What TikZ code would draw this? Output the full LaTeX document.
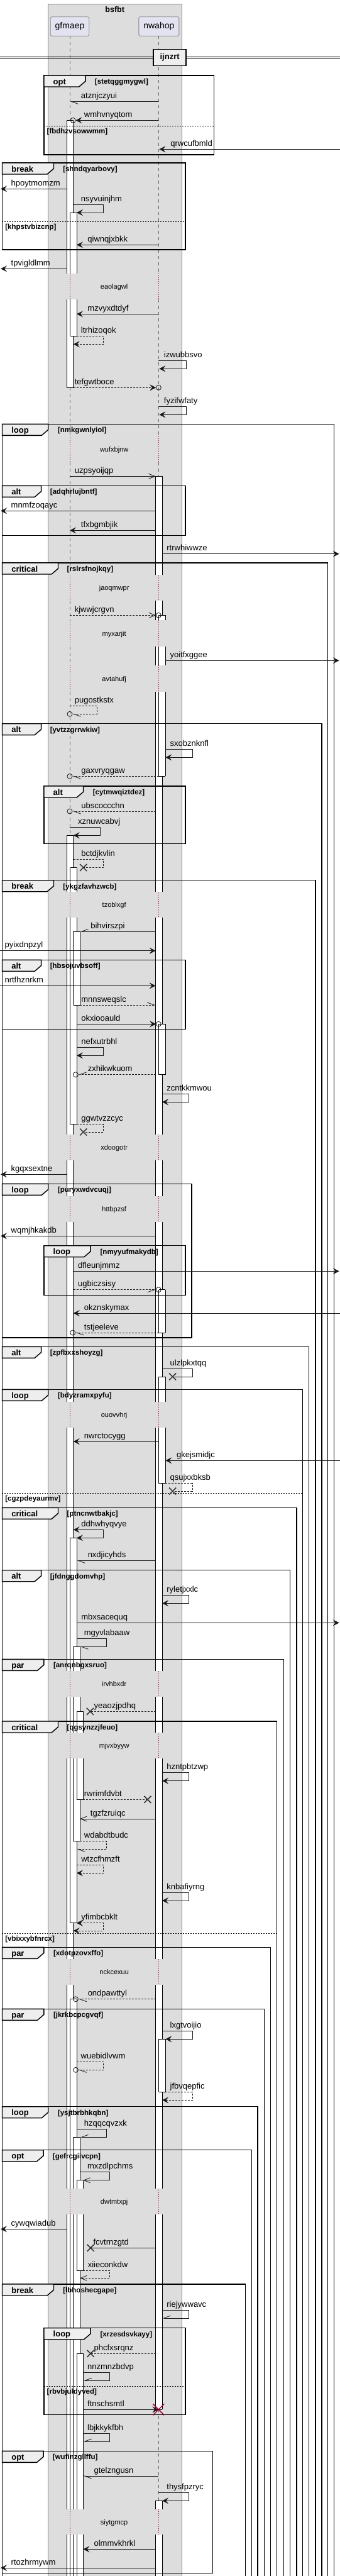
\documentclass[tikz,border=0pt]{standalone}
\usepackage{fontspec}
\setmainfont{Liberation Sans}
\usetikzlibrary{arrows.meta}
\definecolor{boxgray}{HTML}{DDDDDD}
\definecolor{boxedge}{HTML}{888888}
\definecolor{partfill}{HTML}{E2E2F0}
\definecolor{tabgray}{HTML}{EEEEEE}
\definecolor{lifegray}{HTML}{666666}
\definecolor{delayred}{HTML}{A80036}
\definecolor{ink}{HTML}{181818}
\tikzset{
  msg/.style={draw=ink, line width=0.8pt},
  ret/.style={msg, dash pattern=on 3pt off 2pt},
  fa/.style={-{Stealth[length=10pt,width=10pt,inset=4pt]}},
  fb/.style={{Stealth[length=10pt,width=10pt,inset=4pt]}-{Stealth[length=10pt,width=10pt,inset=4pt]}},
  oa/.style={-{Straight Barb[length=10pt,width=8pt]}},
  hl/.style={-{Straight Barb[left,length=11pt,width=8pt]}},
  hr/.style={-{Straight Barb[right,length=11pt,width=8pt]}},
  lbl/.style={anchor=base west, inner sep=0pt, font=\fontsize{13}{15}\selectfont},
  grplab/.style={anchor=base west, inner sep=0pt, font=\bfseries\fontsize{13}{15}\selectfont},
  guardlab/.style={anchor=base west, inner sep=0pt, font=\bfseries\fontsize{11.5}{13}\selectfont},
  delaylab/.style={anchor=base, inner sep=0pt, font=\fontsize{11}{13}\selectfont},
  grpline/.style={draw=black, line width=1.4pt},
  actline/.style={draw=black, line width=0.8pt},
  lifeline/.style={draw=lifegray, line width=0.8pt, dash pattern=on 5pt off 5pt},
  delayline/.style={draw=delayred, line width=0.8pt, dash pattern=on 1pt off 2pt},
  crossmark/.style={draw=ink!90, line width=1.5pt},
  partbox/.style={draw=boxedge, fill=partfill, rounded corners=2.5pt, line width=0.8pt,
    minimum width=61.5pt, minimum height=30.6pt, font=\fontsize{14}{16}\selectfont},
}
\newcommand{\xcross}[2]{\draw[crossmark] (#1,#2) ++(-5.3,-5.5) -- ++(10.6,11) ++(-10.6,0) -- ++(10.6,-11);}
\newcommand{\ocirc}[2]{\draw[msg] (#1,#2) circle (4pt);}

\begin{document}
\begin{tikzpicture}[x=1.047pt, y=-1pt]
  \useasboundingbox (0,0) rectangle (516.7,4096);
  \fill[white] (0,0) rectangle (516.7,4096);

  % box round the two participants
  \filldraw[fill=boxgray, draw=boxedge, line width=0.8pt] (72.7,6) rectangle (276,4110);
  \node[font=\bfseries\fontsize{12.5}{15}\selectfont] (bsfbt) at (174.5,15) {bsfbt};
  \node[partbox] (gfmaep) at (106,42) {gfmaep};
  \node[partbox, minimum width=64pt] (nwahop) at (241.5,42) {nwahop};

  % lifelines
  \foreach \a/\b in {57.3/435.3, 476.3/694, 735/914, 955/986.3, 1027.7/1058.3, 1100/1418,
      1458.7/1803.7, 1845/1901.7, 1942.7/2228.7, 2270.3/2657.3, 2698/2755, 2796/3114.7,
      3156.3/3480, 3521/3989.7, 4030.3/4096} {
    \draw[lifeline] (106,\a) -- (106,\b);
    \draw[lifeline] (241,\a) -- (241,\b);
  }

  % delays
  \foreach \a/\b/\t [count=\i] in {435.3/476.3/eaolagwl, 694/735/wufxbjnw, 914/955/jaoqmwpr,
      986.3/1027.7/myxarjit, 1058.3/1100/avtahufj, 1418/1458.7/tzoblxgf, 1803.7/1845/xdoogotr,
      1901.7/1942.7/httbpzsf, 2228.7/2270.3/ouovvhrj, 2657.3/2698/irvhbxdr, 2755/2796/mjvxbyyw,
      3114.7/3156.3/nckcexuu, 3480/3521/dwtmtxpj, 3989.7/4030.3/siytgmcp} {
    \draw[delayline] (106,\a) -- (106,\b) (241,\a) -- (241,\b);
    \node[delaylab] (delay\i) at (173.5,{(\a+\b)/2+4}) {\t};
  }

  % divider
  \draw[line width=0.8pt] (0,90) -- (516.7,90) (0,92.7) -- (516.7,92.7);
  \node[draw=black, fill=tabgray, line width=1.4pt, minimum width=52pt, minimum height=26pt,
    font=\bfseries\fontsize{13}{15}\selectfont] (ijnzrt) at (258,91.3) {ijnzrt};

  % activation bars
  \foreach \xa/\ya/\yb in {101.5/191.3/435.3, 101.5/476.3/616.3, 101.5/1328.3/1418, 101.5/1458.7/1803.7,
      101.5/1845/1901.7, 101.5/1942.7/2228.7, 101.5/2270.3/2657.3, 101.5/2698/2755, 101.5/2796/3114.7,
      101.5/3156.3/3480, 101.5/3521/3989.7, 101.5/4030.3/4100,
      106.5/338/435.3, 106.5/476.3/534.3, 106.5/1379.7/1418, 106.5/1458.7/1787.7, 106.5/2445.3/2657.3,
      106.5/2698/2755, 106.5/2796/3057.7, 106.5/3178.7/3480, 106.5/3521/3989.7, 106.5/4030.3/4100,
      111.5/1481.3/1598, 111.5/2618.3/2657.3, 111.5/2698/2755, 111.5/2796/2927.7, 111.5/3398.3/3480,
      111.5/3521/3989.7, 111.5/4030.3/4100,
      116.5/2721.3/2755, 116.5/2796/2861.3, 116.5/3466.7/3480, 116.5/3521/3610, 116.5/3742.3/3989.7,
      116.5/4030.3/4100,
      236.5/757.3/914, 236.5/955/986.3, 236.5/1027.7/1058.3, 236.5/1100/1418, 236.5/1458.7/1803.7,
      236.5/1845/1901.7, 236.5/1942.7/2228.7, 236.5/2270.3/2657.3, 236.5/2698/2755, 236.5/2796/3114.7,
      236.5/3156.3/3480, 236.5/3521/3831.3, 236.5/3976.3/3989.7, 236.5/4030.3/4100,
      241.5/978.3/986.3, 241.5/1027.7/1058.3, 241.5/1100/1234.3, 241.5/1628.3/1708.7, 241.5/2050.7/2119,
      241.5/2189/2228.7, 241.5/2270.3/2358.7, 241.5/3242.3/3326.3} {
    \fill[white] (\xa,\ya) rectangle (\xa+10,\yb);
    \draw[actline] (\xa,\ya) -- (\xa,\yb) (\xa+10,\ya) -- (\xa+10,\yb);
  }
  \foreach \xa/\y in {101.5/191.3, 101.5/616.3, 101.5/1328.3, 106.5/338, 106.5/534.3, 106.5/1379.7,
      106.5/1787.7, 106.5/2445.3, 106.5/3057.7, 106.5/3178.7, 111.5/1481.3, 111.5/1598, 111.5/2618.3,
      111.5/2927.7, 111.5/3398.3, 116.5/2721.3, 116.5/2861.3, 116.5/3466.7, 116.5/3610, 116.5/3742.3,
      236.5/757.3, 236.5/3831.3, 236.5/3976.3, 241.5/978.3, 241.5/1234.3, 241.5/1628.3, 241.5/1708.7,
      241.5/2050.7, 241.5/2119, 241.5/2189, 241.5/2358.7, 241.5/3242.3, 241.5/3326.3} {
    \draw[actline] (\xa,\y) -- (\xa+10,\y);
  }

  % groups that stay open past the bottom edge
  \foreach \xa/\xb/\ya/\lab/\tr/\gd/\gx [count=\i] in {3.3/507.7/674.3/loop/73.3/nmkgwnlyiol/87.7,
      3.3/498.3/895/critical/88.3/rslrsfnojkqy/101.7, 3.3/489/1150.7/alt/62.7/yvtzzgrrwkiw/76,
      3.3/479.3/1399.7/break/81.7/ykgzfavhzwcb/95.7, 3.3/469.3/2141.3/alt/62.7/zpfbxxshoyzg/76,
      3.3/460/2209.3/loop/73.3/bdyzramxpyfu/87.7, 3.3/450.7/2397.3/critical/88.3/ptncnwtbakjc/101.7,
      3.3/440.7/2496.7/alt/62.7/jfdnggdomvhp/76, 3.3/431/2638.3/par/66.7/anrqnbgxsruo/81,
      3.3/420.7/2737/critical/88.3/qgsynzzjfeuo/101.7, 3.3/411/3096.3/par/66.7/xdotpzovxffo/81,
      3.3/401.7/3194.3/par/66.7/jkrkbcpcgvqf/81, 3.3/391.7/3349.7/loop/73.3/ysjtbrbhkqbn/87.7,
      3.3/382.3/3418.7/opt/66/gefrcgiivcpn/80, 3.3/372.7/3632/break/81.7/lbhoshecgape/95.7} {
    \draw[grpline] (\xa,4110) -- (\xa,\ya) -- (\xb,\ya) -- (\xb,4110);
    \filldraw[grpline, fill=tabgray] (\xa,\ya) -- (\tr,\ya) -- (\tr,\ya+9) -- (\tr-10,\ya+18) -- (\xa,\ya+18) -- cycle;
    \node[grplab] (opentab\i) at (\xa+14,\ya+14) {\lab};
    \node[guardlab] (openguard\i) at (\gx,\ya+13.3) {[\gd]};
  }

  % closed groups
  \foreach \xa/\xb/\ya/\yb/\lab/\tr/\gd/\gx [count=\i] in {66.7/325.3/120/246/opt/130/stetqggmygwl/144,
      3.3/281.7/259/397/break/81.7/shndqyarbovy/95.7, 3.3/281.7/772.3/851.3/alt/62.7/adqhrlujbntf/76,
      66.7/281.7/1250/1341.3/alt/126.7/cytmwqiztdez/141, 3.3/281.7/1526.3/1636.3/alt/62.7/hbsojuvbsoff/76,
      3.3/291.3/1882.3/2127/loop/73.3/puryxwdvcuqj/87.7, 66.7/281.7/1980.7/2059.3/loop/137.7/nmyyufmakydb/152.3,
      66.7/281.7/3701.7/3839.7/loop/137.7/xrzesdsvkayy/152.3, 3.3/323.3/3897.3/4091.3/opt/66/wufinzgllffu/80} {
    \draw[grpline] (\xa,\ya) rectangle (\xb,\yb);
    \filldraw[grpline, fill=tabgray] (\xa,\ya) -- (\tr,\ya) -- (\tr,\ya+9) -- (\tr-10,\ya+18) -- (\xa,\ya+18) -- cycle;
    \node[grplab] (tab\i) at (\xa+14,\ya+14) {\lab};
    \node[guardlab] (guard\i) at (\gx,\ya+13.3) {[\gd]};
  }

  % else separators
  \foreach \xa/\xb/\y/\gd [count=\i] in {66.7/325.3/200.3/fbdhzvsowwmm, 3.3/281.7/352.3/khpstvbizcnp,
      3.3/460/2374.7/cgzpdeyaurmv, 3.3/420.7/3074.3/vbixxybfnrcx, 66.7/281.7/3794.3/rbvbjuldyved} {
    \draw[line width=0.8pt, dash pattern=on 2pt off 2pt] (\xa,\y) -- (\xb,\y);
    \node[guardlab] (else\i) at (\xa+4.5,\y+11.7) {[\gd]};
  }

  % messages
  \draw[msg,hl] (241,161.3) -- (106,161.3);
  \node[lbl] (atznjczyui) at (123,156.3) {atznjczyui};
  \draw[msg,fa] (241,191.3) -- (115,191.3); \ocirc{111}{191.3}
  \node[lbl] (wmhvnyqtom) at (127.7,186.3) {wmhvnyqtom};
  \draw[msg,fa] (516.7,237.3) -- (242,237.3);
  \node[lbl] (qrwcufbmld) at (259,232.3) {qrwcufbmld};
  \draw[msg,fa] (101.5,300.3) -- (1,300.3);
  \node[lbl] (hpoytmomzm) at (16.7,295.3) {hpoytmomzm};
  \draw[msg,fa] (111.5,325.3) -- (157,325.3) -- (157,338) -- (116.5,338);
  \node[lbl] (nsyvuinjhm) at (123,320.3) {nsyvuinjhm};
  \draw[msg,fa] (241,389.3) -- (116.5,389.3);
  \node[lbl] (qiwnqjxbkk) at (133,384.3) {qiwnqjxbkk};
  \draw[msg,fa] (101.5,427.3) -- (1,427.3);
  \node[lbl] (tpvigldlmm) at (16.7,422.3) {tpvigldlmm};
  \draw[msg,fa] (241,499.3) -- (116.5,499.3);
  \node[lbl] (mzvyxdtdyf) at (133,494.3) {mzvyxdtdyf};
  \draw[ret,fa] (116.5,534.3) -- (157,534.3) -- (157,547.3) -- (111.5,547.3);
  \node[lbl] (ltrhizoqok) at (123,529.3) {ltrhizoqok};
  \draw[msg,fa] (241,573.3) -- (282.7,573.3) -- (282.7,586.3) -- (242,586.3);
  \node[lbl] (izwubbsvo) at (249,568.3) {izwubbsvo};
  \draw[ret,fa] (111.5,616.3) -- (237,616.3); \ocirc{241}{616.3}
  \node[lbl] (tefgwtboce) at (113.3,611.3) {tefgwtboce};
  \draw[msg,fa] (241,646.3) -- (282.7,646.3) -- (282.7,659.3) -- (242,659.3);
  \node[lbl] (fyzifwfaty) at (249,641.3) {fyzifwfaty};

  \draw[msg,oa] (106,757.3) -- (236.5,757.3);
  \node[lbl] (uzpsyoijqp) at (113.3,752.3) {uzpsyoijqp};
  \draw[msg,fa] (236.5,812.3) -- (1,812.3);
  \node[lbl] (mnmfzoqayc) at (16.7,807.3) {mnmfzoqayc};
  \draw[msg,fa] (236.5,843.3) -- (106,843.3);
  \node[lbl] (tfxbgmbjik) at (123,838.3) {tfxbgmbjik};
  \draw[msg,fa] (246.5,880.7) -- (515.5,880.7);
  \node[lbl] (rtrwhiwwze) at (253.3,875.7) {rtrwhiwwze};
  \draw[ret,oa] (106,978.3) -- (237,978.3); \ocirc{241}{978.3}
  \node[lbl] (kjwwjcrgvn) at (113.3,973.3) {kjwwjcrgvn};
  \draw[msg,fa] (251.5,1050.3) -- (515.5,1050.3);
  \node[lbl] (yoitfxggee) at (258.3,1045.3) {yoitfxggee};
  \draw[ret,hl] (106,1122.7) -- (147.3,1122.7) -- (147.3,1135.3) -- (110,1135.3); \ocirc{106}{1135.3}
  \node[lbl] (pugostkstx) at (113.3,1117.7) {pugostkstx};
  \draw[msg,fa] (251.5,1191.7) -- (292.3,1191.7) -- (292.3,1204.3) -- (251.5,1204.3);
  \node[lbl] (sxobznknfl) at (258.3,1186.7) {sxobznknfl};
  \draw[ret,hl] (241.5,1234.3) -- (110,1234.3); \ocirc{106}{1234.3}
  \node[lbl] (gaxvryqgaw) at (123.3,1229.3) {gaxvryqgaw};
  \draw[ret,hl] (236.5,1290) -- (110,1290); \ocirc{106}{1290}
  \node[lbl] (ubscoccchn) at (123.3,1285) {ubscoccchn};
  \draw[msg,fa] (106,1315.3) -- (152.3,1315.3) -- (152.3,1328.3) -- (111.5,1328.3);
  \node[lbl] (xznuwcabvj) at (118.3,1310.3) {xznuwcabvj};
  \draw[ret] (111.5,1366.3) -- (157,1366.3) -- (157,1379.5) -- (126.7,1379.5); \xcross{126.7}{1379.5}
  \node[lbl] (bctdjkvlin) at (123.3,1361.3) {bctdjkvlin};

  \draw[msg,hr] (236.5,1481.3) -- (121.5,1481.3);
  \node[lbl] (bihvirszpi) at (137.7,1476.3) {bihvirszpi};
  \draw[msg,fa] (0,1511.7) -- (236.5,1511.7);
  \node[lbl] (pyixdnpzyl) at (7,1506.7) {pyixdnpzyl};
  \draw[msg,fa] (0,1567.3) -- (236.5,1567.3);
  \node[lbl] (nrtfhznrkm) at (7,1562.3) {nrtfhznrkm};
  \draw[ret,hl] (121.5,1598) -- (236.5,1598);
  \node[lbl] (mnnsweqslc) at (123.3,1593) {mnnsweqslc};
  \draw[msg,fa] (116.5,1628.3) -- (237,1628.3); \ocirc{241}{1628.3}
  \node[lbl] (okxiooauld) at (123.3,1623.3) {okxiooauld};
  \draw[msg,fa] (116.5,1665.3) -- (157,1665.3) -- (157,1678.3) -- (116.5,1678.3);
  \node[lbl] (nefxutrbhl) at (123.3,1660.3) {nefxutrbhl};
  \draw[ret,hr] (236.5,1708.7) -- (119,1708.7); \ocirc{115}{1708.7}
  \node[lbl] (zxhikwkuom) at (133.3,1703.7) {zxhikwkuom};
  \draw[msg,fa] (246.5,1739.3) -- (287.3,1739.3) -- (287.3,1752.3) -- (246.5,1752.3);
  \node[lbl] (zcntkkmwou) at (253.3,1734.3) {zcntkkmwou};
  \draw[ret] (116.5,1787.7) -- (157,1787.7) -- (157,1800) -- (126.7,1800); \xcross{126.7}{1800}
  \node[lbl] (ggwtvzzcyc) at (123.3,1782.7) {ggwtvzzcyc};
  \draw[msg,fa] (101.5,1867.3) -- (1,1867.3);
  \node[lbl] (kgqxsextne) at (16.7,1862.3) {kgqxsextne};
  \draw[msg,fa] (236.5,1965.3) -- (1,1965.3);
  \node[lbl] (wqmjhkakdb) at (16.7,1960.3) {wqmjhkakdb};
  \draw[msg,fa] (111.5,2021.3) -- (515.5,2021.3);
  \node[lbl] (dfleunjmmz) at (118.3,2016.3) {dfleunjmmz};
  \draw[ret,hr] (111.5,2050.7) -- (237,2050.7); \ocirc{241}{2050.7}
  \node[lbl] (ugbiczsisy) at (118.3,2045.7) {ugbiczsisy};
  \draw[msg,fa] (516.7,2088) -- (111.5,2088);
  \node[lbl] (okznskymax) at (127.7,2083) {okznskymax};
  \draw[ret,hl] (241.5,2119) -- (114.5,2119); \ocirc{110.5}{2119}
  \node[lbl] (tstjeeleve) at (127.7,2114) {tstjeeleve};

  \draw[msg] (246.5,2176.7) -- (292.3,2176.7) -- (292.3,2189) -- (262.3,2189); \xcross{262.3}{2189}
  \node[lbl] (ulzlpkxtqq) at (258.3,2171.7) {ulzlpkxtqq};
  \draw[msg,fa] (241.5,2292) -- (111.5,2292);
  \node[lbl] (nwrctocygg) at (127.7,2287) {nwrctocygg};
  \draw[msg,fa] (516.7,2322.3) -- (251.5,2322.3);
  \node[lbl] (gkejsmidjc) at (268.3,2317.3) {gkejsmidjc};
  \draw[ret] (251.5,2358.7) -- (292.3,2358.7) -- (292.3,2371) -- (262.3,2371); \xcross{262.3}{2371}
  \node[lbl] (qsujxxbksb) at (258.3,2353.7) {qsujxxbksb};
  \draw[msg,fb] (111.5,2432.3) -- (157,2432.3) -- (157,2445.3) -- (116.5,2445.3);
  \node[lbl] (ddhwhyqvye) at (123.3,2427.3) {ddhwhyqvye};
  \draw[msg,hl] (236.5,2481.3) -- (116.5,2481.3);
  \node[lbl] (nxdjicyhds) at (133.3,2476.3) {nxdjicyhds};
  \draw[msg,fa] (246.5,2536.7) -- (287.3,2536.7) -- (287.3,2549.3) -- (246.5,2549.3);
  \node[lbl] (ryletjxxlc) at (253.3,2531.7) {ryletjxxlc};
  \draw[msg,fa] (116.5,2580.3) -- (515.5,2580.3);
  \node[lbl] (mbxsacequq) at (123.3,2575.3) {mbxsacequq};
  \draw[msg,hl] (116.5,2605.7) -- (161.7,2605.7) -- (161.7,2618.3) -- (121.5,2618.3);
  \node[lbl] (mgyvlabaaw) at (127.7,2600.7) {mgyvlabaaw};
  \draw[ret] (236.5,2721.3) -- (137,2721.3); \xcross{137}{2721.3}
  \node[lbl] (yeaozjpdhq) at (142.7,2716.3) {yeaozjpdhq};

  \draw[msg,fa] (246.5,2818.7) -- (287.3,2818.7) -- (287.3,2831.7) -- (246.5,2831.7);
  \node[lbl] (hzntpbtzwp) at (253.3,2813.7) {hzntpbtzwp};
  \draw[ret] (126.5,2861.3) -- (224.3,2861.3); \xcross{224.3}{2861.3}
  \node[lbl] (rwrimfdvbt) at (127.7,2856.3) {rwrimfdvbt};
  \draw[msg,oa] (236.5,2892) -- (121.5,2892);
  \node[lbl] (tgzfzruiqc) at (137.3,2887) {tgzfzruiqc};
  \draw[ret,hl] (121.5,2927.7) -- (161.7,2927.7) -- (161.7,2940.3) -- (116.5,2940.3);
  \node[lbl] (wdabdtbudc) at (127.7,2922.7) {wdabdtbudc};
  \draw[ret,fa] (116.5,2965.3) -- (157,2965.3) -- (157,2978.3) -- (116.5,2978.3);
  \node[lbl] (wtzcfhmzft) at (123.3,2960.3) {wtzcfhmzft};
  \draw[msg,fa] (246.5,3009.7) -- (287.3,3009.7) -- (287.3,3022) -- (246.5,3022);
  \node[lbl] (knbafiyrng) at (253.3,3004.7) {knbafiyrng};
  \draw[ret,fb] (116.5,3057.7) -- (157,3057.7) -- (157,3070) -- (111.5,3070);
  \node[lbl] (yfimbcbklt) at (123.3,3052.7) {yfimbcbklt};

  \draw[ret,hl] (236.5,3178.7) -- (119,3178.7); \ocirc{115}{3178.7}
  \node[lbl] (ondpawttyl) at (133.3,3173.7) {ondpawttyl};
  \draw[msg,fa] (246.5,3229.7) -- (292.3,3229.7) -- (292.3,3242.3) -- (251.5,3242.3);
  \node[lbl] (lxgtvoijio) at (258.3,3224.7) {lxgtvoijio};
  \draw[ret,hl] (116.5,3278.3) -- (157,3278.3) -- (157,3291.3) -- (119,3291.3); \ocirc{115}{3291.3}
  \node[lbl] (wuebidlvwm) at (122.7,3273.3) {wuebidlvwm};
  \draw[ret,fa] (251.5,3326.3) -- (292.3,3326.3) -- (292.3,3339.3) -- (246.5,3339.3);
  \node[lbl] (jfbvqepfic) at (258.3,3321.3) {jfbvqepfic};
  \draw[msg,hr] (116.5,3385.7) -- (161.7,3385.7) -- (161.7,3398.3) -- (121.5,3398.3);
  \node[lbl] (hzqqcqvzxk) at (127.7,3380.7) {hzqqcqvzxk};
  \draw[msg,oa] (121.5,3453.3) -- (166.7,3453.3) -- (166.7,3466.7) -- (126.5,3466.7);
  \node[lbl] (mxzdlpchms) at (132.7,3448.3) {mxzdlpchms};
  \draw[msg,fa] (101.5,3544.3) -- (1,3544.3);
  \node[lbl] (cywqwiadub) at (16.7,3539.3) {cywqwiadub};
  \draw[msg] (236.5,3574.3) -- (137.7,3574.3); \xcross{137.7}{3574.3}
  \node[lbl] (fcvtrnzgtd) at (141.7,3569.3) {fcvtrnzgtd};
  \draw[ret,oa] (126.5,3610) -- (166.7,3610) -- (166.7,3622.3) -- (121.5,3622.3);
  \node[lbl] (xiieconkdw) at (133.3,3605) {xiieconkdw};

  \draw[msg,hr] (246.5,3673.3) -- (287.3,3673.3) -- (287.3,3686) -- (246.5,3686);
  \node[lbl] (riejywwavc) at (253.3,3668.3) {riejywwavc};
  \draw[ret] (236.5,3742.3) -- (137.7,3742.3); \xcross{137.7}{3742.3}
  \node[lbl] (phcfxsrqnz) at (142.7,3737.3) {phcfxsrqnz};
  \draw[msg,hr] (126.5,3772.7) -- (166.7,3772.7) -- (166.7,3785.3) -- (126.5,3785.3);
  \node[lbl] (nnzmnzbdvp) at (132.7,3767.7) {nnzmnzbdvp};
  \draw[msg,fa] (126.5,3831.3) -- (241,3831.3);
  \draw[draw=delayred, line width=1.5pt] (241,3831.3) ++(-8.6,-9) -- ++(17.2,18) ++(-17.2,0) -- ++(17.2,-18);
  \node[lbl] (ftnschsmtl) at (132.7,3826.3) {ftnschsmtl};
  \draw[msg,hr] (126.5,3869.3) -- (166.7,3869.3) -- (166.7,3882) -- (126.5,3882);
  \node[lbl] (lbjkkykfbh) at (132.7,3864.3) {lbjkkykfbh};
  \draw[msg,hl] (241,3937) -- (126.5,3937);
  \node[lbl] (gtelzngusn) at (142.7,3932) {gtelzngusn};
  \draw[msg,fa] (241,3963.3) -- (287.3,3963.3) -- (287.3,3976.3) -- (246.5,3976.3);
  \node[lbl] (thysfpzryc) at (253.3,3958.3) {thysfpzryc};
  \draw[msg,fa] (236.5,4053.3) -- (126.5,4053.3);
  \node[lbl] (olmmvkhrkl) at (142.7,4048.3) {olmmvkhrkl};
  \draw[msg,fa] (236.5,4083) -- (1,4083);
  \node[lbl] (rtozhrmywm) at (16.7,4078) {rtozhrmywm};
\end{tikzpicture}
\end{document}
